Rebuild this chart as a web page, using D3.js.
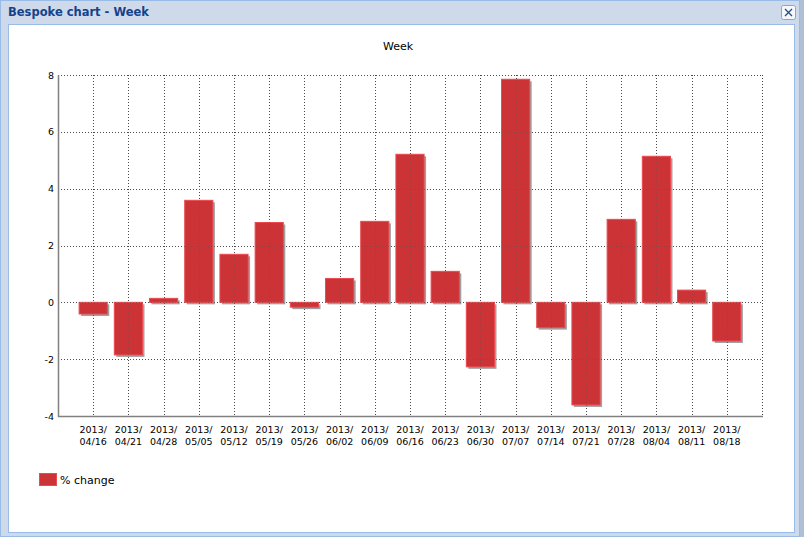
<!DOCTYPE html>
<html>
<head>
<meta charset="utf-8">
<script src="https://cdn.jsdelivr.net/npm/d3@7"></script>
<style>
  html, body { margin: 0; padding: 0; background: #c5d3e4; }
  #win { position: absolute; left: 0; top: 0; width: 804px; height: 537px; }
  text { font-family: "DejaVu Sans", Verdana, sans-serif; }
</style>
</head>
<body>
<div id="win"></div>
<script>
// Chart data
const weeks = ['2013/04/16', '2013/04/21', '2013/04/28', '2013/05/05', '2013/05/12',
  '2013/05/19', '2013/05/26', '2013/06/02', '2013/06/09', '2013/06/16', '2013/06/23',
  '2013/06/30', '2013/07/07', '2013/07/14', '2013/07/21', '2013/07/28', '2013/08/04',
  '2013/08/11', '2013/08/18'];
const pctChange = [-0.41, -1.85, 0.14, 3.59, 1.69, 2.81, -0.17, 0.84, 2.85, 5.21, 1.09,
  -2.27, 7.85, -0.89, -3.61, 2.92, 5.14, 0.43, -1.36];
const yTicks = [-4, -2, 0, 2, 4, 6, 8];
const seriesName = '% change';
const chartTitle = 'Week';
const windowTitle = 'Bespoke chart - Week';

const W = 804;
const H = 537;
const margin = { top: 75, right: 42, bottom: 121, left: 58 };

const svg = d3.select('#win').append('svg')
  .attr('width', W)
  .attr('height', H);

// Window frame
svg.append('rect')
  .attr('x', 0).attr('y', 0).attr('width', 800).attr('height', H)
  .attr('fill', '#cedaea');
svg.append('rect')
  .attr('x', 800).attr('y', 0).attr('width', 4).attr('height', H)
  .attr('fill', '#aebfd6');
svg.append('rect')
  .attr('x', 0.5).attr('y', 0.5).attr('width', 799).attr('height', H - 1)
  .attr('fill', 'none').attr('stroke', '#99bbe8');
svg.append('text')
  .attr('x', 8).attr('y', 16)
  .attr('fill', '#15428b')
  .style('font-family', '"DejaVu Sans", Tahoma, sans-serif')
  .style('font-size', '11.5px')
  .style('font-weight', 'bold')
  .text(windowTitle);

// Close button
const close = svg.append('g').attr('transform', 'translate(781,5)');
close.append('rect')
  .attr('x', 0.5).attr('y', 0.5).attr('width', 14).attr('height', 14).attr('rx', 2)
  .attr('fill', '#f4f7fb').attr('stroke', '#8aa6cc');
close.append('path')
  .attr('d', 'M4,4L11,11M11,4L4,11')
  .attr('stroke', '#2a4a80').attr('stroke-width', 1.3);

// Inner white panel
svg.append('rect')
  .attr('x', 8.5).attr('y', 24.5).attr('width', 786).attr('height', 508)
  .attr('fill', '#ffffff').attr('stroke', '#99bbe8');

const plotW = W - margin.left - margin.right;
const plotH = H - margin.top - margin.bottom;

const x = d3.scalePoint()
  .domain(weeks)
  .range([0, plotW])
  .padding(1);

const y = d3.scaleLinear()
  .domain([-4, 8])
  .range([plotH, 0]);

const barW = x.step() * 0.8;

const g = svg.append('g')
  .attr('transform', `translate(${margin.left},${margin.top})`);

// Chart title
svg.append('text')
  .attr('x', 398).attr('y', 50)
  .attr('text-anchor', 'middle')
  .attr('fill', '#000')
  .style('font-size', '11px')
  .text(chartTitle);

// Grid lines
const grid = g.append('g').attr('class', 'grid')
  .attr('stroke', '#444').attr('stroke-dasharray', '1,2').attr('fill', 'none');

grid.selectAll('line.h')
  .data(yTicks)
  .enter().append('line')
  .attr('class', 'h')
  .attr('x1', 0).attr('x2', plotW)
  .attr('y1', d => Math.round(y(d)) + 0.5)
  .attr('y2', d => Math.round(y(d)) + 0.5);

grid.selectAll('line.v')
  .data(weeks)
  .enter().append('line')
  .attr('class', 'v')
  .attr('x1', d => Math.round(x(d)) + 0.5)
  .attr('x2', d => Math.round(x(d)) + 0.5)
  .attr('y1', 0).attr('y2', plotH);

grid.append('line')
  .attr('x1', plotW + 0.5).attr('x2', plotW + 0.5)
  .attr('y1', 0).attr('y2', plotH);

// Bars
const bars = g.append('g').attr('class', 'bars');

bars.selectAll('rect.shadow')
  .data(pctChange)
  .enter().append('rect')
  .attr('class', 'shadow')
  .attr('x', (d, i) => x(weeks[i]) - barW / 2 + 2)
  .attr('y', d => Math.min(y(d), y(0)) + 2)
  .attr('width', barW)
  .attr('height', d => Math.abs(y(d) - y(0)))
  .attr('fill', '#777')
  .attr('opacity', 0.7);

bars.selectAll('rect.bar')
  .data(pctChange)
  .enter().append('rect')
  .attr('class', 'bar')
  .attr('x', (d, i) => x(weeks[i]) - barW / 2)
  .attr('y', d => Math.min(y(d), y(0)))
  .attr('width', barW)
  .attr('height', d => Math.abs(y(d) - y(0)))
  .attr('fill', '#cc3336')
  .attr('stroke', '#ea4a50')
  .attr('stroke-width', 1);

// Redraw vertical grid through the bars (dotted lines show on top)
const gridTop = g.append('g')
  .attr('stroke', '#555').attr('stroke-dasharray', '1,2').attr('opacity', 0.45);
gridTop.selectAll('line')
  .data(weeks)
  .enter().append('line')
  .attr('x1', d => Math.round(x(d)) + 0.5)
  .attr('x2', d => Math.round(x(d)) + 0.5)
  .attr('y1', 0).attr('y2', plotH);
gridTop.selectAll('line.h')
  .data(yTicks)
  .enter().append('line')
  .attr('class', 'h')
  .attr('x1', 0).attr('x2', plotW)
  .attr('y1', d => Math.round(y(d)) + 0.5)
  .attr('y2', d => Math.round(y(d)) + 0.5);

// Axes lines
g.append('line')
  .attr('x1', 0.5).attr('x2', 0.5).attr('y1', 0).attr('y2', plotH + 1)
  .attr('stroke', '#808080').attr('stroke-width', 1.5);
g.append('line')
  .attr('x1', 0).attr('x2', plotW + 1).attr('y1', plotH + 0.5).attr('y2', plotH + 0.5)
  .attr('stroke', '#808080').attr('stroke-width', 1.5);

// Y labels
g.append('g').selectAll('text')
  .data(yTicks)
  .enter().append('text')
  .attr('x', -4)
  .attr('y', d => y(d) + 3.5)
  .attr('text-anchor', 'end')
  .style('font-size', '9.5px')
  .attr('fill', '#000')
  .text(d => d);

// X labels, two lines each
const xl = g.append('g').selectAll('text')
  .data(weeks)
  .enter().append('text')
  .attr('text-anchor', 'middle')
  .style('font-size', '9.5px')
  .attr('fill', '#000');

xl.append('tspan')
  .attr('x', d => x(d))
  .attr('y', plotH + 17)
  .text(d => d.slice(0, 5));

xl.append('tspan')
  .attr('x', d => x(d))
  .attr('y', plotH + 29)
  .text(d => d.slice(5));

// Legend
const legend = svg.append('g').attr('transform', 'translate(39,473)');
legend.append('rect')
  .attr('x', 0.5).attr('y', 0.5).attr('width', 17).attr('height', 12)
  .attr('fill', '#cc3336').attr('stroke', '#ea4a50');
legend.append('text')
  .attr('x', 21).attr('y', 10.5)
  .style('font-size', '11px')
  .attr('fill', '#000')
  .text(seriesName);
</script>
</body>
</html>
